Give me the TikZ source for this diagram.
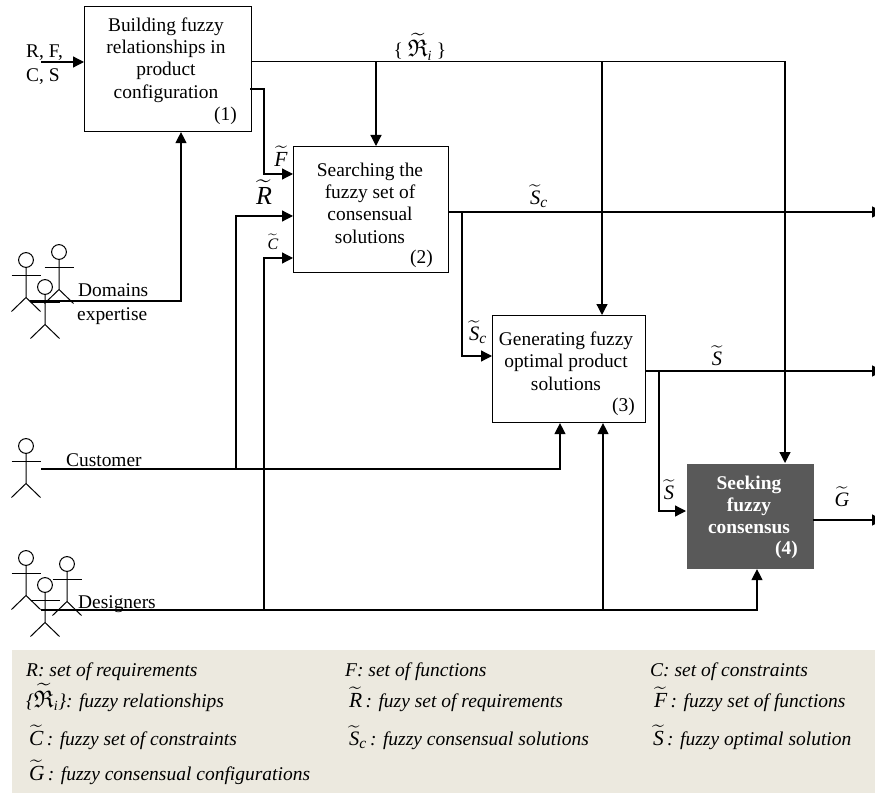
\RequirePackage{fix-cm}
\documentclass[tikz,border=0pt]{standalone}
\usepackage{amsmath,amssymb}
\usepackage{fontspec}
\setmainfont{Liberation Serif}
\usetikzlibrary{arrows.meta}
\definecolor{legendbg}{HTML}{ECE9DF}
\definecolor{darkbox}{HTML}{595959}
\newcommand{\sz}[1]{\fontsize{#1}{22.3}\selectfont}
\newcommand{\ftil}[1]{\ensuremath{\widetilde{\text{\itshape #1}}}}
\newcommand{\bigtil}[1]{\mbox{\sz{21.5}\ftil{#1}}}
\newcommand{\fsub}[2]{\mbox{\sz{20.5}$\widetilde{\text{\itshape #1}}_{\mbox{\sz{15.5}\itshape #2}}$}}
\newcommand{\frel}{\mbox{\sz{24}$\widetilde{\mathfrak{R}}_{\mbox{\sz{14}\itshape i}}$}}
\tikzset{
  lin/.style={line width=1.25pt},
  arr/.style={line width=1.25pt,-{Triangle[length=11pt,width=11pt]}},
  box/.style={draw,line width=1.1pt,anchor=north west,inner sep=0pt},
  txt/.style={inner sep=0pt,font=\sz{19.4},align=center},
  num/.style={inner sep=0pt,font=\sz{19.4},anchor=east},
  lab/.style={inner sep=0pt,font=\sz{19.4}},
  leg/.style={inner sep=0pt,font=\sz{19.5}\itshape,anchor=base west},
  stickman/.pic={
    \draw[line width=1pt] (0,0) circle (7.4);
    \draw[line width=1pt] (-14.5,15.5) -- (14.5,15.5);
    \draw[line width=1pt] (0,7.4) -- (0,37.5) -- (-14.5,51.5);
    \draw[line width=1pt] (0,37.5) -- (14.5,51.5);
  }
}
\begin{document}
\begin{tikzpicture}[x=1pt,y=-1pt]
\useasboundingbox (0,0) rectangle (875,794);
\fill[legendbg] (12,650) rectangle (875,793);
% boxes
\node[box,minimum width=167pt,minimum height=125pt] (b1) at (84,6) {};
\node[box,minimum width=155pt,minimum height=126pt] (b2) at (293,146) {};
\node[box,minimum width=153pt,minimum height=107pt] (b3) at (492,315) {};
\node[box,draw=none,fill=darkbox,minimum width=127pt,minimum height=105pt] (b4) at (686,463) {};
\node[txt] (t1) at (166,60) {Building fuzzy\\relationships in\\product\\configuration};
\node[num] (n1) at (237,116) {(1)};
\node[txt] (t2) at (370,203) {Searching the\\fuzzy set of\\consensual\\solutions};
\node[num] (n2) at (433,259) {(2)};
\node[txt] (t3) at (566,361) {Generating fuzzy\\optimal product\\solutions};
\node[num] (n3) at (635,407) {(3)};
\node[txt,text=white,font=\sz{19.4}\bfseries] (t4) at (749,505) {Seeking\\fuzzy\\consensus};
\node[num,text=white,font=\sz{19.4}\bfseries] (n4) at (798,550) {(4)};
% actors
\pic at (26,260) {stickman};
\pic at (59,252) {stickman};
\pic at (45,287) {stickman};
\pic at (26,446) {stickman};
\pic at (26,558) {stickman};
\pic at (67,564) {stickman};
\pic at (45,585) {stickman};
% free ends and junctions
\coordinate (inS) at (41,62);
\coordinate (domS) at (30,301);
\coordinate (cusS) at (41,469);
\coordinate (desS) at (41,610);
\coordinate (relY) at (251,61.5);
\coordinate (fOut) at (250,89);
\coordinate (fX) at (264,174);
\coordinate (rX) at (236,216);
\coordinate (cX) at (264,258);
\coordinate (scO) at (448,212);
\coordinate (scE) at (883,212);
\coordinate (scB) at (462,212);
\coordinate (scT) at (462,356);
\coordinate (sO) at (645,371);
\coordinate (sE) at (883,371);
\coordinate (sB) at (659,371);
\coordinate (sT) at (659,511);
\coordinate (gO) at (813,520);
\coordinate (gE) at (883,520);
\coordinate (cuE) at (560,469);
\coordinate (deE) at (757,610);
\coordinate (deB) at (603,610);
\coordinate (deC) at (264,610);
\coordinate (cuB) at (236,469);
\coordinate (reE) at (785,61.5);
\coordinate (re3) at (602,61.5);
\coordinate (re2) at (376,61.5);
\coordinate (doE) at (181,301);
% connectors
\draw[arr] (inS) -- (b1.west |- inS);
\draw[lin] (relY) -- (reE);
\draw[arr] (re2) -- (re2 |- b2.north);
\draw[arr] (re3) -- (re3 |- b3.north);
\draw[arr] (reE) -- (reE |- b4.north);
\draw[arr] (fOut) -- (fOut -| fX) -- (fX) -- (b2.west |- fX);
\draw[arr] (domS) -- (doE) -- (doE |- b1.south);
\draw[arr] (cuB) -- (rX) -- (b2.west |- rX);
\draw[arr] (deC) -- (cX) -- (b2.west |- cX);
\draw[arr] (scO) -- (scE);
\draw[arr] (scB) -- (scT) -- (b3.west |- scT);
\draw[arr] (sO) -- (sE);
\draw[arr] (sB) -- (sT) -- (b4.west |- sT);
\draw[arr] (gO) -- (gE);
\draw[arr] (cusS) -- (cuE) -- (cuE |- b3.south);
\draw[arr] (desS) -- (deE) -- (deE |- b4.south);
\draw[arr] (deB) -- (deB |- b3.south);
% labels
\node[lab,anchor=base west] (l0a) at (26,58) {R, F,};
\node[lab,anchor=base west] (l0b) at (26,81.5) {C, S};
\node[lab,anchor=base west] (l1a) at (78,297) {Domains};
\node[lab,anchor=base west] (l1b) at (77,320) {expertise};
\node[lab,anchor=base west] (l2) at (66,466) {Customer};
\node[lab,anchor=base west] (l3) at (78,608) {Designers};
\node[lab,font=\sz{21.5}] (mF) at (281,156) {\ftil{F}};
\node[lab,font=\sz{26}] (mR) at (264,192) {\ftil{R}};
\node[lab,font=\sz{16}] (mC) at (273,242) {\ftil{C}};
\node[lab] (mRel) at (420,47) {\{ \frel{} \}};
\node[lab] (mSc1) at (539,196) {\fsub{S}{c}};
\node[lab] (mSc2) at (478,332) {\fsub{S}{c}};
\node[lab,font=\sz{20.5}] (mS1) at (717,356) {\ftil{S}};
\node[lab,font=\sz{20.5}] (mS2) at (669,490) {\ftil{S}};
\node[lab,font=\sz{20.5}] (mG) at (842,497) {\ftil{G}};
% legend
\node[leg] (k1) at (26,676) {R: set of requirements};
\node[leg] (k2) at (345,676) {F: set of functions};
\node[leg] (k3) at (650,676) {C: set of constraints};
\node[leg] (k4) at (26,707) {\{\frel{}\}: fuzzy relationships};
\node[leg] (k5) at (349,707) {\bigtil{R}\,: fuzy set of requirements};
\node[leg] (k6) at (654,707) {\bigtil{F}\,: fuzzy set of functions};
\node[leg] (k7) at (29,745) {\bigtil{C}\,: fuzzy set of constraints};
\node[leg] (k8) at (349,745) {\fsub{S}{c}\,: fuzzy consensual solutions};
\node[leg] (k9) at (653,745) {\bigtil{S}\,: fuzzy optimal solution};
\node[leg] (k10) at (29,780) {\bigtil{G}\,: fuzzy consensual configurations};
\end{tikzpicture}
\end{document}
